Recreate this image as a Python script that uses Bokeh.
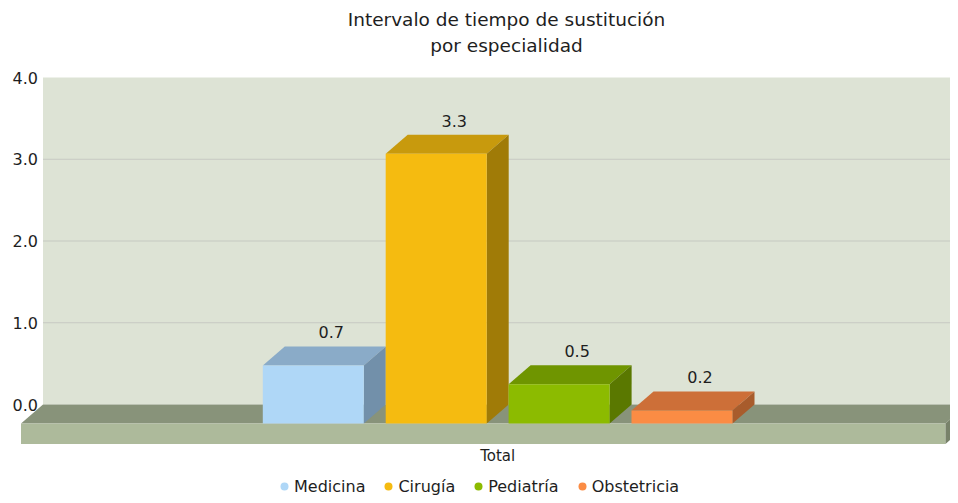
from bokeh.plotting import figure
from bokeh.models import Range1d, Legend, LegendItem
from bokeh.core.properties import value
from bokeh.embed import file_html
from bokeh.resources import INLINE

# ---------------- data ----------------
title_lines = ["Intervalo de tiempo de sustitución", "por especialidad"]
category = "Total"
series = ["Medicina", "Cirugía", "Pediatría", "Obstetricia"]
values = [0.71, 3.3, 0.48, 0.16]
y_ticks = [0.0, 1.0, 2.0, 3.0, 4.0]
tick_labels = ["0.0", "1.0", "2.0", "3.0", "4.0"]

# ---------------- styles ----------------
front_colors = ["#afd7f7", "#f5bb10", "#8cbb00", "#fb8c44"]
top_colors = ["#8aabc8", "#c89a0d", "#6f9500", "#cd6f38"]
side_colors = ["#7290aa", "#a07b07", "#5a7800", "#a85c2c"]
WALL = "#dde3d5"
GRID = "#c6c9c2"
FLOOR_TOP = "#88937a"
FLOOR_FRONT = "#adba9b"
FLOOR_SIDE = "#78826a"
TEXT = "#1e1e1e"
FONT = value("DejaVu Sans")

# ---------------- geometry (pixels -> data units) ----------------
W, H = 950, 495
PAGE_X0, PAGE_Y0 = 0, 0
PX_PER_UNIT_Y = 81.75      # pixels per value unit
PX_PER_BAR = 122.9         # pixels between bar centres
ZERO_Y = 404.0             # pixel y of value 0 on the back wall
BAR0_X = 312.8             # pixel x of first bar front centre


def px2x(px):
    return (px - BAR0_X) / PX_PER_BAR


def py2y(py):
    return (ZERO_Y - py) / PX_PER_UNIT_Y


DX = 22 / PX_PER_BAR        # 3D depth offset in x
DY = 19 / PX_PER_UNIT_Y     # 3D depth offset in y
THICK = 20.5 / PX_PER_UNIT_Y
HALF_W = 101 / PX_PER_BAR / 2

x_start, x_end = px2x(PAGE_X0), px2x(PAGE_X0 + W)
y_start, y_end = py2y(PAGE_Y0 + H), py2y(PAGE_Y0)

p = figure(width=W, height=H, x_range=Range1d(x_start, x_end), y_range=Range1d(y_start, y_end),
           output_backend="svg", toolbar_location=None, tools="", title=None,
           x_axis_location=None, y_axis_location=None, min_border=0)
p.grid.visible = False
p.outline_line_color = None
p.background_fill_color = "white"
p.border_fill_color = "white"

floor_left = px2x(20.5)
floor_right = px2x(945)
wall_left = floor_left + DX
wall_right = x_end + 1

# back wall
p.quad(left=[wall_left], right=[wall_right], bottom=[y_ticks[0]], top=[y_ticks[-1]],
       fill_color=WALL, line_color=None)
# grid lines
gt = [t for t in y_ticks if y_ticks[0] < t < y_ticks[-1]]
p.segment(x0=[wall_left] * len(gt), x1=[wall_right] * len(gt), y0=gt, y1=gt,
          line_color=GRID, line_width=1.2)

# floor
p.patch([floor_left, floor_right, floor_right + DX, floor_left + DX], [-DY, -DY, 0, 0],
        fill_color=FLOOR_TOP, line_color=None)
p.quad(left=[floor_left], right=[floor_right], top=[-DY], bottom=[-DY - THICK],
       fill_color=FLOOR_FRONT, line_color=None)
p.patch([floor_right, floor_right, floor_right + DX, floor_right + DX],
        [-DY - THICK, -DY, 0, -THICK], fill_color=FLOOR_SIDE, line_color=None)

# bars
top_xs, top_ys, side_xs, side_ys = [], [], [], []
lefts, rights, tops, bottoms = [], [], [], []
for i, v in enumerate(values):
    x0, x1 = i - HALF_W, i + HALF_W
    top_xs.append([x0, x1, x1 + DX, x0 + DX])
    top_ys.append([v - DY, v - DY, v, v])
    side_xs.append([x1, x1, x1 + DX, x1 + DX])
    side_ys.append([-DY, v - DY, v, 0])
    lefts.append(x0)
    rights.append(x1)
    tops.append(v - DY)
    bottoms.append(-DY)

p.patches(xs=top_xs, ys=top_ys, fill_color=top_colors, line_color=None)
p.patches(xs=side_xs, ys=side_ys, fill_color=side_colors, line_color=None)
p.quad(left=lefts, right=rights, top=tops, bottom=bottoms, fill_color=front_colors, line_color=None)

# value labels
p.text(x=[i + 18 / PX_PER_BAR for i in range(len(values))],
       y=[v + 14 / PX_PER_UNIT_Y for v in values],
       text=[f"{v:.1f}" for v in values], text_align="center", text_baseline="alphabetic",
       text_font=FONT, text_font_size="16px", text_color=TEXT)

# y tick labels
p.text(x=[wall_left - 5 / PX_PER_BAR] * len(y_ticks), y=y_ticks, text=tick_labels,
       text_align="right", text_baseline="middle", text_font=FONT, text_font_size="16px",
       text_color=TEXT)

# category label
p.text(x=[sum(range(len(values))) / len(values)], y=[py2y(455)], text=[category],
       text_align="center", text_baseline="middle", text_font=FONT, text_font_size="15px",
       text_color=TEXT)

# title
p.text(x=[px2x(506)] * 2, y=[py2y(19), py2y(45)], text=title_lines, text_align="center",
       text_baseline="middle", text_font=FONT, text_font_size="18.5px", text_color=TEXT)

# legend
items = []
for s, c in zip(series, front_colors):
    r = p.scatter(x=[float("nan")], y=[float("nan")], marker="circle", size=8,
                  fill_color=c, line_color=None)
    items.append(LegendItem(label=s, renderers=[r]))
legend = Legend(items=items, orientation="horizontal", location=(274, -1),
                glyph_width=20, glyph_height=20, label_standoff=-1, spacing=13,
                padding=0, margin=0, border_line_color=None, background_fill_alpha=0,
                label_text_font="DejaVu Sans", label_text_font_size="16px",
                label_text_color=TEXT, label_height=20)
p.add_layout(legend, "center")

open("out.html", "w").write(file_html(p, INLINE))
